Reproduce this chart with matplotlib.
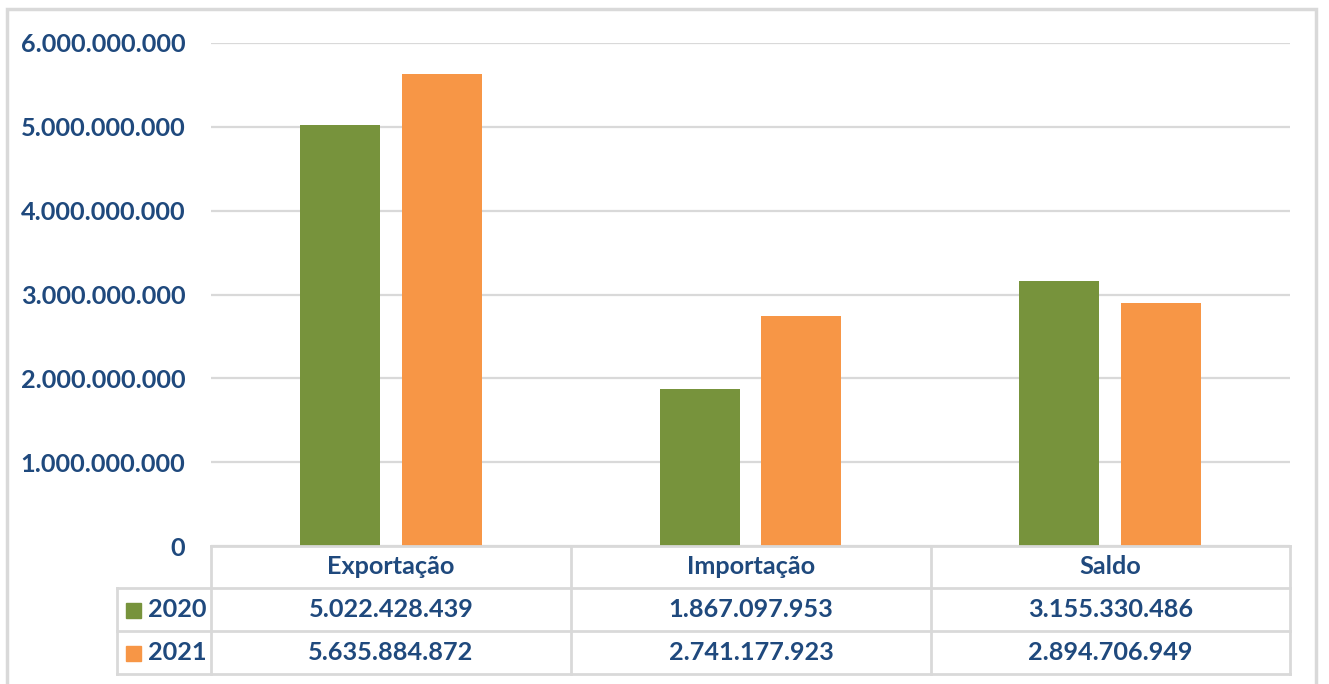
import matplotlib
matplotlib.use("Agg")
import matplotlib.pyplot as plt
from matplotlib.lines import Line2D
from matplotlib.patches import Rectangle
from matplotlib.ticker import FuncFormatter, MultipleLocator

categories = ["Exportação", "Importação", "Saldo"]
series_names = ["2020", "2021"]
values_2020 = [5022428439, 1867097953, 3155330486]
values_2021 = [5635884872, 2741177923, 2894706949]
series_values = [values_2020, values_2021]
colors = ["#77933C", "#F79646"]
text_color = "#1F497D"
grid_color = "#D9D9D9"

W, H = 1329, 684
fig = plt.figure(figsize=(W / 100, H / 100), dpi=100)
fig.patch.set_facecolor("white")

def fx(px):
    return px / W

def fy(py):
    return 1 - py / H

FONT = "Lato"
FS = 18.2

def fmt(v):
    return f"{int(round(v)):,}".replace(",", ".")

# plot area
left, right, top, zero = 211, 1290, 43, 546
ax = fig.add_axes([fx(left), fy(zero), fx(right) - fx(left), fy(top) - fy(zero)])
ax.set_xlim(-0.5, len(categories) - 0.5)
ax.set_ylim(0, 6e9)
ax.yaxis.set_major_locator(MultipleLocator(1e9))
ax.yaxis.set_major_formatter(FuncFormatter(lambda v, p: fmt(v)))
ax.grid(axis="y", color=grid_color, linewidth=1.6)
ax.set_axisbelow(True)
for s in ax.spines.values():
    s.set_visible(False)
ax.tick_params(axis="y", length=0, pad=18.5, labelsize=FS, labelcolor=text_color)
ax.tick_params(axis="x", length=0, labelbottom=False)
for lab in ax.get_yticklabels():
    lab.set_fontfamily(FONT)
    lab.set_fontweight("bold")

bw = 80 / 360
gap = 22 / 360
x = list(range(len(categories)))
offsets = [-(bw + gap) / 2, (bw + gap) / 2]
for vals, off, c in zip(series_values, offsets, colors):
    ax.bar([xi + off for xi in x], vals, width=bw, color=c, zorder=3)

# data table
col_edges = [211, 571, 931, 1290]
row_edges = [546, 588, 631, 674]
leg_left = 117
lw = 2.0

def hline(y, x0, x1):
    fig.add_artist(Line2D([fx(x0), fx(x1)], [fy(y), fy(y)], color=grid_color, lw=lw))

def vline(xp, y0, y1):
    fig.add_artist(Line2D([fx(xp), fx(xp)], [fy(y0), fy(y1)], color=grid_color, lw=lw))

hline(row_edges[0], col_edges[0], col_edges[-1])
for r in row_edges[1:]:
    hline(r, leg_left, col_edges[-1])
vline(leg_left, row_edges[1], row_edges[-1])
for c in col_edges:
    vline(c, row_edges[0], row_edges[-1])

txt_kw = dict(color=text_color, fontsize=FS, fontfamily=FONT, fontweight="bold",
              ha="center", va="center")
for i, cat in enumerate(categories):
    cx = (col_edges[i] + col_edges[i + 1]) / 2
    fig.text(fx(cx), fy((row_edges[0] + row_edges[1]) / 2), cat, **txt_kw)
    for j, vals in enumerate(series_values):
        cy = (row_edges[j + 1] + row_edges[j + 2]) / 2
        fig.text(fx(cx), fy(cy), fmt(vals[i]), **txt_kw)

for j, (name, c) in enumerate(zip(series_names, colors)):
    cy = (row_edges[j + 1] + row_edges[j + 2]) / 2
    fig.add_artist(Rectangle((fx(126), fy(cy + 8)), fx(15), 15 / H, color=c,
                             transform=fig.transFigure))
    fig.text(fx(148), fy(cy), name, color=text_color, fontsize=FS, fontfamily=FONT,
             fontweight="bold", ha="left", va="center")

# outer border
fig.add_artist(Rectangle((fx(7), fy(700)), fx(1316 - 7), (700 - 9) / H, fill=False,
                         edgecolor=grid_color, lw=2.5, transform=fig.transFigure))

fig.savefig("out.png", dpi=100, facecolor="white")
